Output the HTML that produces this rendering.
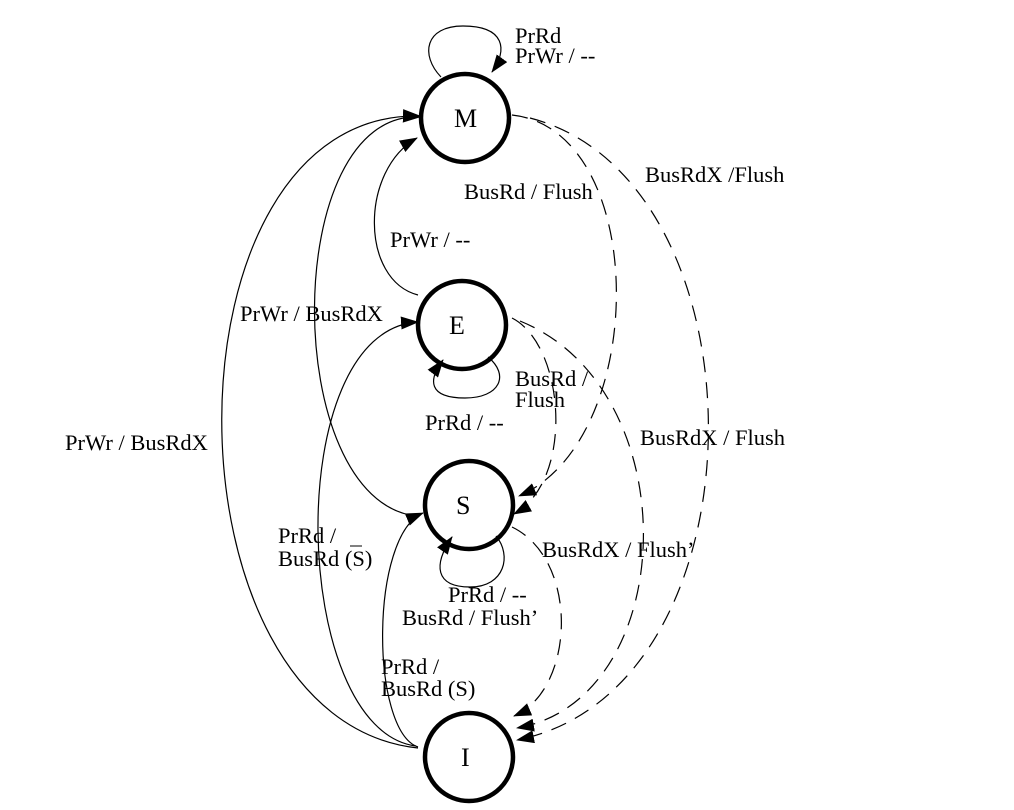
<!DOCTYPE html>
<html><head><style>
html,body{margin:0;padding:0;background:#fff;}
svg text{font-family:"Liberation Serif",serif;font-size:22.5px;fill:#000;}
svg text.n{font-size:26px;}
</style></head><body>
<svg width="1014" height="805" viewBox="0 0 1014 805" xmlns="http://www.w3.org/2000/svg">
<defs>
<marker id="a" markerWidth="18" markerHeight="13" refX="17" refY="6.5" orient="auto" markerUnits="userSpaceOnUse">
<path d="M0,0 L18,6.5 L0,13 z" fill="#000"/>
</marker>
</defs>
<g fill="none" stroke="#000" stroke-width="4.5">
<circle cx="465" cy="118" r="44"/>
<circle cx="462" cy="325" r="44"/>
<circle cx="469" cy="505" r="44"/>
<circle cx="469" cy="757" r="44"/>
</g>
<g fill="none" stroke="#000" stroke-width="1.2">
<path d="M441,77 C420,55 425,26 463,26 C505,26 508,50 492,72" marker-end="url(#a)"/>
<path d="M488,357 C510,375 500,398 465,398 C428,398 428,380 443,360" marker-end="url(#a)"/>
<path d="M496,536 C512,555 505,587 470,587 C435,587 433,565 452,537" marker-end="url(#a)"/>
<path d="M418,748 C156,720 156,110 420,116" marker-end="url(#a)"/>
<path d="M416,516 C280,500 280,110 420,117" marker-end="url(#a)"/>
<path d="M418,295 C360,280 360,170 417,138" marker-end="url(#a)"/>
<path d="M416,746 C290,730 280,330 418,322" marker-end="url(#a)"/>
<path d="M418,747 C370,730 370,535 423,513" marker-end="url(#a)"/>
</g>
<g fill="none" stroke="#000" stroke-width="1.2" stroke-dasharray="16,10">
<path d="M512,115 C650,130 650,440 519,496" marker-end="url(#a)"/>
<path d="M530,118 C770,180 770,690 517,740" marker-end="url(#a)"/>
<path d="M512,318 C565,345 575,480 514,514" marker-end="url(#a)"/>
<path d="M520,321 C690,390 680,700 517,728" marker-end="url(#a)"/>
<path d="M512,527 C580,560 575,690 514,716" marker-end="url(#a)"/>
</g>
<text x="515" y="43">PrRd</text>
<text x="515" y="63">PrWr / --</text>
<text x="464" y="199">BusRd / Flush</text>
<text x="645" y="182">BusRdX /Flush</text>
<text x="390" y="247">PrWr / --</text>
<text x="240" y="321">PrWr / BusRdX</text>
<text x="515" y="386">BusRd /</text>
<text x="515" y="407">Flush</text>
<text x="425" y="430">PrRd / --</text>
<text x="65" y="450">PrWr / BusRdX</text>
<text x="640" y="445">BusRdX / Flush</text>
<text x="278" y="543">PrRd /</text>
<text x="278" y="566">BusRd (S)</text>
<line x1="350" y1="546" x2="362" y2="546" stroke="#000" stroke-width="1"/>
<text x="542" y="557">BusRdX / Flush’</text>
<text x="448" y="602">PrRd / --</text>
<text x="402" y="625">BusRd / Flush’</text>
<text x="381" y="674">PrRd /</text>
<text x="381" y="696">BusRd (S)</text>
<text class="n" x="454" y="127">M</text>
<text class="n" x="449" y="334">E</text>
<text class="n" x="456" y="514">S</text>
<text class="n" x="461" y="766">I</text>
</svg>
</body></html>
